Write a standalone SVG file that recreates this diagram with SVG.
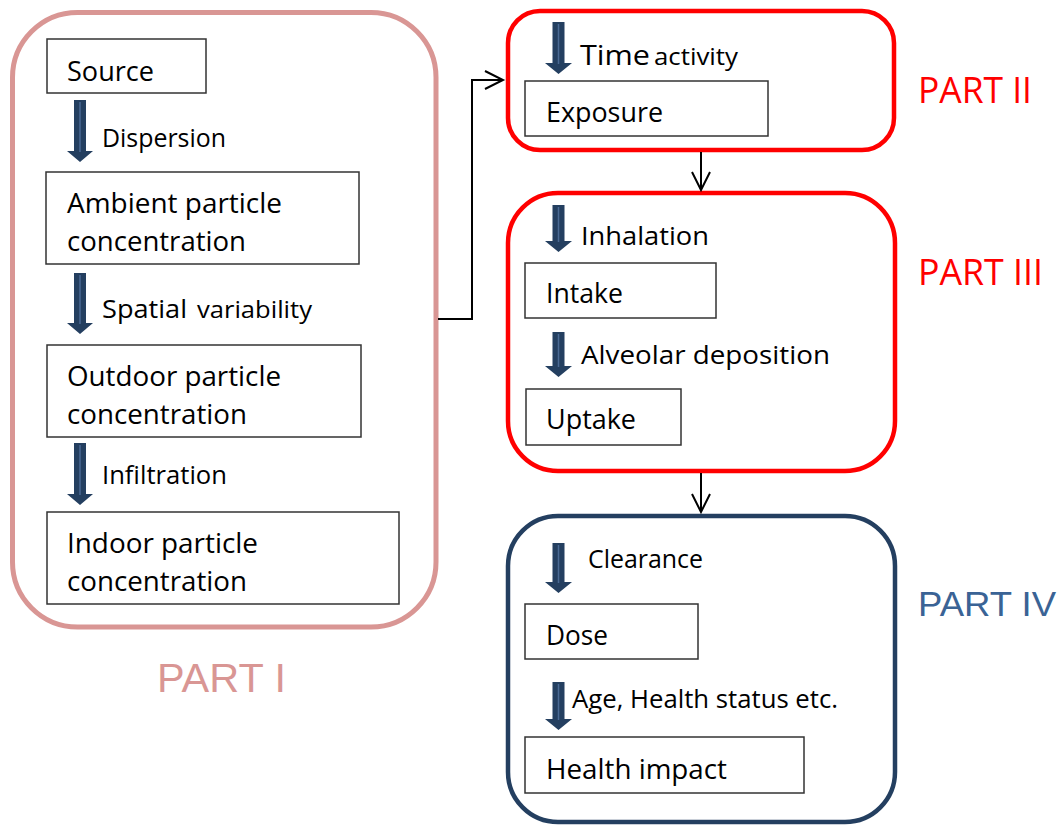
<svg xmlns="http://www.w3.org/2000/svg" width="1061" height="826" viewBox="0 0 1061 826">
<style>
.box{fill:#fff;stroke:#333;stroke-width:1.5}
.t{font-family:"Open Sans","Liberation Sans",sans-serif;font-size:27px;fill:#000}
.l{font-family:"Open Sans","Liberation Sans",sans-serif;font-size:25px;fill:#000}
.s{font-size:24px}
.ba{fill:#243F60}
.bl{stroke:#4A6A94;stroke-width:1.5}
.con{fill:none;stroke:#000;stroke-width:2}
.part{font-family:"Open Sans","Liberation Sans",sans-serif;font-size:36px;fill:#FF0000}
.parta{font-family:"Liberation Sans",Arial,sans-serif}
</style>
<defs>
<marker id="open" markerUnits="userSpaceOnUse" markerWidth="24" markerHeight="24" viewBox="-20 -12 24 24" refX="0" refY="0" orient="auto">
<path d="M-18,-9 L0,0 L-18,9" fill="none" stroke="#000" stroke-width="2"/>
</marker>
</defs>
<rect width="1061" height="826" fill="#fff"/>

<g id="part1">
<rect x="12.5" y="12.5" width="423.5" height="614.5" rx="65" fill="#fff" stroke="#D99694" stroke-width="5"/>
<text class="parta" x="157" y="692" font-size="41" fill="#D99694" textLength="129" lengthAdjust="spacingAndGlyphs">PART I</text>
</g>
<g id="part2">
<rect x="508" y="11" width="386" height="139" rx="32" fill="#fff" stroke="#FF0000" stroke-width="4.5"/>
<text class="part" x="918" y="103" textLength="114" lengthAdjust="spacingAndGlyphs">PART II</text>
</g>
<g id="part3">
<rect x="508" y="193" width="387" height="278" rx="50" fill="#fff" stroke="#FF0000" stroke-width="4.5"/>
<text class="part" x="918" y="285" textLength="125" lengthAdjust="spacingAndGlyphs">PART III</text>
</g>
<g id="part4">
<rect x="508" y="516" width="387" height="306" rx="50" fill="#fff" stroke="#243F60" stroke-width="4.5"/>
<text class="parta" x="918" y="616" font-size="35" fill="#3A6395" textLength="138" lengthAdjust="spacingAndGlyphs">PART IV</text>
</g>

<g id="connectors">
<polyline class="con" points="438,319 472,319 472,80 503,80" marker-end="url(#open)"/>
<line class="con" x1="701" y1="152" x2="701" y2="190" marker-end="url(#open)"/>
<line class="con" x1="701" y1="473" x2="701" y2="512" marker-end="url(#open)"/>
</g>

<g id="flow-arrows">
<polygon class="ba" points="74,100 86,100 86,151 93,151 80,162 67,151 74,151"/>
<line class="bl" x1="80" y1="102" x2="80" y2="152"/>
<polygon class="ba" points="74,273 86,273 86,323 93,323 80,334 67,323 74,323"/>
<line class="bl" x1="80" y1="275" x2="80" y2="324"/>
<polygon class="ba" points="74,443 86,443 86,494 93,494 80,505 67,494 74,494"/>
<line class="bl" x1="80" y1="445" x2="80" y2="495"/>
<polygon class="ba" points="552.5,22 564.5,22 564.5,63 572,63 558.5,74 545,63 552.5,63"/>
<line class="bl" x1="558.5" y1="24" x2="558.5" y2="64"/>
<polygon class="ba" points="552.5,205 564.5,205 564.5,241 572,241 558.5,252 545,241 552.5,241"/>
<line class="bl" x1="558.5" y1="207" x2="558.5" y2="242"/>
<polygon class="ba" points="552.5,332 564.5,332 564.5,366 572,366 558.5,377 545,366 552.5,366"/>
<line class="bl" x1="558.5" y1="334" x2="558.5" y2="367"/>
<polygon class="ba" points="552.5,543 564.5,543 564.5,582 572,582 558.5,593 545,582 552.5,582"/>
<line class="bl" x1="558.5" y1="545" x2="558.5" y2="583"/>
<polygon class="ba" points="552.5,682 564.5,682 564.5,719 572,719 558.5,730 545,719 552.5,719"/>
<line class="bl" x1="558.5" y1="684" x2="558.5" y2="720"/>
</g>

<g id="labels">
<text class="l" x="102" y="147" textLength="124" lengthAdjust="spacingAndGlyphs">Dispersion</text>
<text class="l" y="318"><tspan x="102" font-size="26" textLength="85" lengthAdjust="spacingAndGlyphs">Spatial</tspan> <tspan x="197" class="s" textLength="115" lengthAdjust="spacingAndGlyphs">variability</tspan></text>
<text class="l" x="102" y="484" textLength="125" lengthAdjust="spacingAndGlyphs">Infiltration</text>
<text class="l" y="65"><tspan x="580" font-size="27" textLength="70" lengthAdjust="spacingAndGlyphs">Time</tspan> <tspan x="654" class="s" textLength="84" lengthAdjust="spacingAndGlyphs">activity</tspan></text>
<text class="l" x="581" y="245" font-size="27" textLength="128" lengthAdjust="spacingAndGlyphs">Inhalation</text>
<text class="l" x="581" y="364" font-size="27" textLength="249" lengthAdjust="spacingAndGlyphs">Alveolar deposition</text>
<text class="l" x="588" y="568" textLength="115" lengthAdjust="spacingAndGlyphs">Clearance</text>
<text class="l" x="572" y="708" textLength="266" lengthAdjust="spacingAndGlyphs">Age, Health status etc.</text>
</g>

<g id="source">
<rect class="box" x="47" y="39" width="159" height="54"/>
<text class="t" x="67" y="81" textLength="87" lengthAdjust="spacingAndGlyphs">Source</text>
</g>
<g id="ambient">
<rect class="box" x="46" y="172" width="313" height="92"/>
<text class="t" x="67" y="213" textLength="215" lengthAdjust="spacingAndGlyphs">Ambient particle</text>
<text class="t" x="67" y="251" textLength="179" lengthAdjust="spacingAndGlyphs">concentration</text>
</g>
<g id="outdoor">
<rect class="box" x="47" y="345" width="314" height="92"/>
<text class="t" x="67" y="386" textLength="214" lengthAdjust="spacingAndGlyphs">Outdoor particle</text>
<text class="t" x="67" y="424" textLength="180" lengthAdjust="spacingAndGlyphs">concentration</text>
</g>
<g id="indoor">
<rect class="box" x="47" y="512" width="352" height="92"/>
<text class="t" x="67" y="553" textLength="191" lengthAdjust="spacingAndGlyphs">Indoor particle</text>
<text class="t" x="67" y="591" textLength="180" lengthAdjust="spacingAndGlyphs">concentration</text>
</g>
<g id="exposure">
<rect class="box" x="525" y="81" width="243" height="55"/>
<text class="t" x="546" y="122" textLength="117" lengthAdjust="spacingAndGlyphs">Exposure</text>
</g>
<g id="intake">
<rect class="box" x="525" y="263" width="191" height="55"/>
<text class="t" x="546" y="303" textLength="77" lengthAdjust="spacingAndGlyphs">Intake</text>
</g>
<g id="uptake">
<rect class="box" x="526" y="389" width="155" height="56"/>
<text class="t" x="546" y="429" textLength="90" lengthAdjust="spacingAndGlyphs">Uptake</text>
</g>
<g id="dose">
<rect class="box" x="525" y="604" width="173" height="55"/>
<text class="t" x="546" y="645" textLength="62" lengthAdjust="spacingAndGlyphs">Dose</text>
</g>
<g id="health">
<rect class="box" x="525" y="737" width="279" height="56"/>
<text class="t" x="546" y="779" textLength="181" lengthAdjust="spacingAndGlyphs">Health impact</text>
</g>
</svg>
